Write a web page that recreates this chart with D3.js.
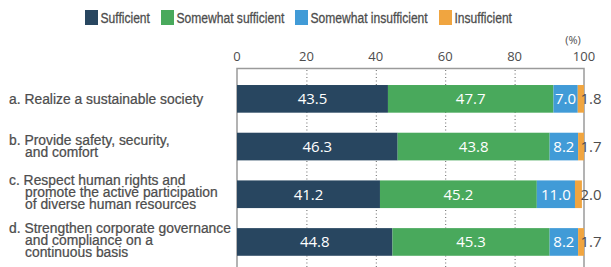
<!DOCTYPE html>
<html>
<head>
<meta charset="utf-8">
<script src="https://cdn.jsdelivr.net/npm/d3@7"></script>
<style>
  body { margin: 0; background: #fff; }
  .cond { font-family: "Liberation Sans", Arial, sans-serif; }
  .num { font-family: "Open Sans", "Noto Sans", sans-serif; }
</style>
</head>
<body>
<script>
// Categories (label lines) and series values
const categories = [
    ['a. Realize a sustainable society'],
    ['b. Provide safety, security,', 'and comfort'],
    ['c. Respect human rights and', 'promote the active participation', 'of diverse human resources'],
    ['d. Strengthen corporate governance', 'and compliance on a', 'continuous basis']
];
const seriesNames = ['Sufficient', 'Somewhat sufficient', 'Somewhat insufficient', 'Insufficient'];
const sufficient = [43.5, 46.3, 41.2, 44.8];
const somewhatSufficient = [47.7, 43.8, 45.2, 45.3];
const somewhatInsufficient = [7.0, 8.2, 11.0, 8.2];
const insufficient = [1.8, 1.7, 2.0, 1.7];
const ticks = [0, 20, 40, 60, 80, 100];
const colors = ['#284660', '#49a95c', '#419bd7', '#f0a540'];

const width = 611, height = 267;
const svg = d3.select("body").append("svg")
    .attr("width", width)
    .attr("height", height);

// Build stacked rows
const rows = categories.map((c, i) => ({
    idx: i,
    values: [sufficient[i], somewhatSufficient[i], somewhatInsufficient[i], insufficient[i]]
}));
const stack = d3.stack().keys([0, 1, 2, 3]).value((d, k) => d.values[k]);
const layers = stack(rows);

const x = d3.scaleLinear().domain([0, 100]).range([237, 584]);
const y = d3.scaleBand().domain(d3.range(categories.length))
    .range([75, 265.8]).paddingInner(0.42).paddingOuter(0.21);

const grey = '#4d4d4d';

// Legend (condensed look via horizontal squeeze)
const legendX = [85, 161, 295, 439];
const legendSqueeze = 0.78;
const legend = svg.append("g");
seriesNames.forEach((name, i) => {
    legend.append("rect")
        .attr("x", legendX[i]).attr("y", 10)
        .attr("width", 13).attr("height", 15)
        .attr("fill", colors[i]);
    legend.append("text")
        .attr("class", "cond")
        .attr("transform", `translate(${legendX[i] + 15.5},23) scale(${legendSqueeze},1)`)
        .attr("font-size", 15.5)
        .attr("fill", grey)
        .attr("stroke", grey)
        .attr("stroke-width", 0.3)
        .text(name);
});

// Tick labels on top
svg.append("g").selectAll("text")
    .data(ticks).join("text")
    .attr("class", "num")
    .attr("x", d => x(d)).attr("y", 61)
    .attr("text-anchor", "middle")
    .attr("font-size", 13)
    .attr("fill", grey)
    .text(d => d);

svg.append("text")
    .attr("class", "num")
    .attr("x", x(100) - 11).attr("y", 44)
    .attr("text-anchor", "middle")
    .attr("font-size", 11)
    .attr("fill", grey)
    .text("(%)");

// Dotted grid lines
svg.append("g").selectAll("line")
    .data(ticks.slice(1, -1)).join("line")
    .attr("x1", d => x(d) + 0.5).attr("x2", d => x(d) + 0.5)
    .attr("y1", 70).attr("y2", height)
    .attr("stroke", "#666")
    .attr("stroke-width", 1)
    .attr("stroke-dasharray", "1,2.5");

// Frame: top line and the two sides
const frame = d3.path();
frame.moveTo(x(0), height);
frame.lineTo(x(0), 68.5);
frame.lineTo(x(100), 68.5);
frame.lineTo(x(100), height);
svg.append("path")
    .attr("d", frame.toString())
    .attr("fill", "none")
    .attr("stroke", "#9a9a9a")
    .attr("stroke-width", 1.5);

// Bars
const layerG = svg.append("g").selectAll("g")
    .data(layers).join("g")
    .attr("fill", (d, i) => colors[i]);

layerG.selectAll("rect")
    .data(d => d).join("rect")
    .attr("x", d => x(d[0]))
    .attr("y", d => y(d.data.idx))
    .attr("width", d => x(d[1]) - x(d[0]))
    .attr("height", y.bandwidth());

// Value labels
layers.forEach((layer, k) => {
    svg.append("g").selectAll("text")
        .data(layer).join("text")
        .attr("class", "num")
        .attr("x", d => k === 3 ? x(100) - 3.5 : (x(d[0]) + x(d[1])) / 2)
        .attr("y", d => y(d.data.idx) + y.bandwidth() / 2 + 5.5)
        .attr("text-anchor", k === 3 ? "start" : "middle")
        .attr("font-size", 15)
        .attr("fill", k === 3 ? grey : "#fff")
        .text(d => d.data.values[k].toFixed(1));
});

// Category labels
const lineH = 12;
const catSqueeze = 0.925;
const catG = svg.append("g").selectAll("text")
    .data(categories).join("text")
    .attr("class", "cond")
    .attr("font-size", 15)
    .attr("fill", grey)
    .attr("stroke", grey)
    .attr("stroke-width", 0.25)
    .attr("transform", (d, i) =>
        `translate(0,${y(i) + y.bandwidth() / 2 + 5 - (d.length - 1) * lineH / 2 - (d.length - 1)}) scale(${catSqueeze},1)`);

catG.selectAll("tspan")
    .data(d => d).join("tspan")
    .attr("x", (d, j) => (j === 0 ? 9 : 25) / catSqueeze)
    .attr("dy", (d, j) => j === 0 ? 0 : lineH)
    .text(d => d);
</script>
</body>
</html>
